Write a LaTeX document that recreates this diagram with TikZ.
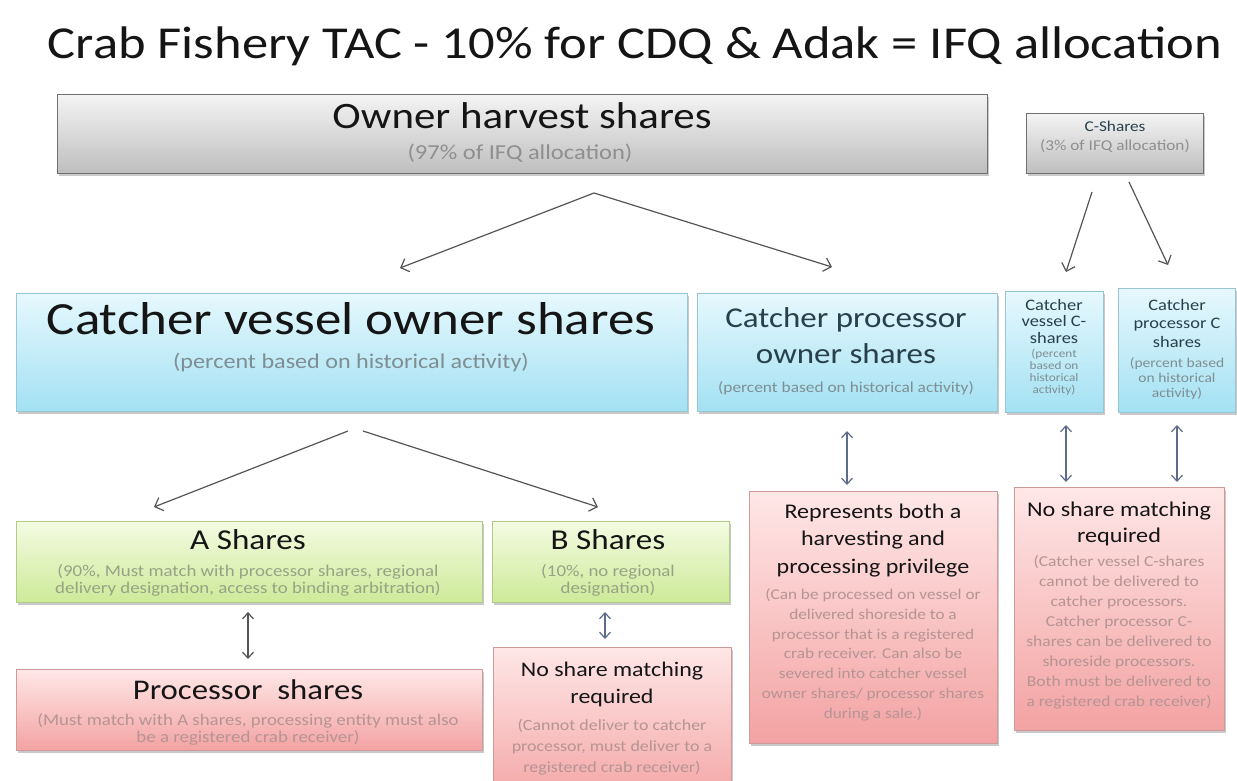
\documentclass[tikz,border=0pt]{standalone}
\usepackage{fontspec}
\setmainfont{Carlito}[FakeStretch=1.15]
\usetikzlibrary{arrows.meta,shadows}
\definecolor{grayT}{HTML}{F4F4F4}
\definecolor{grayB}{HTML}{BEBEBE}
\definecolor{grayL}{HTML}{707070}
\definecolor{blueT}{HTML}{E6F8FD}
\definecolor{blueB}{HTML}{A3E1F3}
\definecolor{blueL}{HTML}{98C6D3}
\definecolor{greenT}{HTML}{F4FBE2}
\definecolor{greenB}{HTML}{CDEA98}
\definecolor{greenL}{HTML}{B3CA8C}
\definecolor{pinkT}{HTML}{FFE7E7}
\definecolor{pinkB}{HTML}{F3A2A2}
\definecolor{pinkL}{HTML}{CF9A9A}
\definecolor{mainT}{HTML}{151515}
\definecolor{subGray}{HTML}{8F8F8F}
\definecolor{subBlue}{HTML}{7E8E93}
\definecolor{slateT}{HTML}{27404B}
\definecolor{subGreen}{HTML}{96A385}
\definecolor{subPink}{HTML}{B69494}
\definecolor{arrGray}{HTML}{555555}
\definecolor{arrSlate}{HTML}{5E6C8C}
\newcommand\fsz[2]{\fontsize{#1}{#2}\selectfont}
\begin{document}
\begin{tikzpicture}[x=1pt,y=-1pt,
  boxbase/.style={draw, line width=1.1pt, inner sep=0pt, anchor=north west,
    drop shadow={opacity=0.35, shadow xshift=1.5pt, shadow yshift=-2pt, fill=black!60}},
  graybox/.style={boxbase, draw=grayL, top color=grayT, bottom color=grayB},
  bluebox/.style={boxbase, draw=blueL, top color=blueT, bottom color=blueB},
  greenbox/.style={boxbase, draw=greenL, top color=greenT, bottom color=greenB},
  pinkbox/.style={boxbase, draw=pinkL, top color=pinkT, bottom color=pinkB},
  txt/.style={inner sep=0pt, anchor=base, align=center, text=mainT},
  arr/.style={draw=arrGray, line width=1.2pt, -{Straight Barb[length=7pt,width=14pt]}},
  darr/.style={draw=#1, line width=1.2pt, {Straight Barb[length=6pt,width=11pt]}-{Straight Barb[length=6pt,width=11pt]}},
]
\useasboundingbox (0,0) rectangle (1237,781);
\fill[white] (0,0) rectangle (1237,781);

% title
\node[txt, font={\fsz{45.7}{48}}] (title) at (635,59) {Crab Fishery TAC - 10\% for CDQ \& Adak = IFQ allocation};

% boxes
\node[graybox, minimum width=930pt, minimum height=79pt] (own) at (57,94) {};
\node[graybox, minimum width=177pt, minimum height=60pt] (csh) at (1026,113) {};
\node[bluebox, minimum width=671pt, minimum height=118pt] (cvo) at (16,293) {};
\node[bluebox, minimum width=300pt, minimum height=118pt] (cpo) at (697,293) {};
\node[bluebox, minimum width=98pt, minimum height=121pt] (cvc) at (1005,291) {};
\node[bluebox, minimum width=117pt, minimum height=124pt] (cpc) at (1118,288) {};
\node[greenbox, minimum width=466pt, minimum height=81pt] (ash) at (16,521) {};
\node[greenbox, minimum width=237pt, minimum height=81pt] (bsh) at (492,521) {};
\node[pinkbox, minimum width=466pt, minimum height=81pt] (psh) at (16,669) {};
\node[pinkbox, minimum width=238pt, minimum height=160pt] (nsb) at (493,647) {};
\node[pinkbox, minimum width=248pt, minimum height=252pt] (rep) at (749,491) {};
\node[pinkbox, minimum width=210pt, minimum height=243pt] (nsc) at (1014,487) {};

% texts (anchor base = baseline of the last line)
\node[txt, font={\fsz{37.3}{40}}] (ownT) at (522,129) {Owner harvest shares};
\node[txt, text=subGray, font={\fsz{21.3}{23}}] (ownS) at (520,160) {(97\% of IFQ allocation)};
\node[txt, text=slateT, font={\fsz{15}{17}}] (cshT) at (1115,132) {C-Shares};
\node[txt, text=subGray, font={\fsz{15}{17}}] (cshS) at (1115,150) {(3\% of IFQ allocation)};
\node[txt, font={\fsz{46.1}{48}}] (cvoT) at (351,334) {Catcher vessel owner shares};
\node[txt, text=subBlue, font={\fsz{21}{23}}] (cvoS) at (351,368) {(percent based on historical activity)};
\node[txt, text=slateT, font={\fsz{28.7}{36}}] (cpoT) at (846,363) {Catcher processor\\owner shares};
\node[txt, text=subBlue, font={\fsz{15.1}{17}}] (cpoS) at (846,392) {(percent based on historical activity)};
\node[txt, text=slateT, font={\fsz{16}{16.5}}] (cvcT) at (1054,343) {Catcher\\vessel C-\\shares};
\node[txt, text=subBlue, font={\fsz{11.5}{11.7}}] (cvcS) at (1054,393) {(percent\\based on\\historical\\activity)};
\node[txt, text=slateT, font={\fsz{16}{18.5}}] (cpcT) at (1177,347) {Catcher\\processor C\\shares};
\node[txt, text=subBlue, font={\fsz{13.5}{15}}] (cpcS) at (1177,397) {(percent based\\on historical\\activity)};
\node[txt, font={\fsz{28.8}{30}}] (ashT) at (248,549) {A Shares};
\node[txt, text=subGreen, font={\fsz{16.4}{17}}] (ashS) at (248,593) {(90\%, Must match with processor shares, regional\\delivery designation, access to binding arbitration)};
\node[txt, font={\fsz{28.8}{30}}] (bshT) at (608,549) {B Shares};
\node[txt, text=subGreen, font={\fsz{16.4}{17}}] (bshS) at (608,593) {(10\%, no regional\\designation)};
\node[txt, font={\fsz{28.5}{30}}] (pshT) at (248,699) {Processor\ \ shares};
\node[txt, text=subPink, font={\fsz{16.4}{17}}] (pshS) at (248,742) {(Must match with A shares, processing entity must also\\be a registered crab receiver)};
\node[txt, font={\fsz{20.8}{27}}] (nsbT) at (612,703) {No share matching\\required};
\node[txt, text=subPink, font={\fsz{15.6}{21}}] (nsbS) at (612,772) {(Cannot deliver to catcher\\processor, must deliver to a\\registered crab receiver)};
\node[txt, font={\fsz{20.9}{27.5}}] (repT) at (873,573) {Represents both a\\harvesting and\\processing privilege};
\node[txt, text=subPink, font={\fsz{15}{19.67}}] (repS) at (873,718) {(Can be processed on vessel or\\delivered shoreside to a\\processor that is a registered\\crab receiver. Can also be\\severed into catcher vessel\\owner shares/ processor shares\\during a sale.)};
\node[txt, font={\fsz{21}{26}}] (nscT) at (1119,542) {No share matching\\required};
\node[txt, text=subPink, font={\fsz{15.2}{19.86}}] (nscS) at (1119,706) {(Catcher vessel C-shares\\cannot be delivered to\\catcher processors.\\Catcher processor C-\\shares can be delivered to\\shoreside processors.\\Both must be delivered to\\a registered crab receiver)};

% connector coordinates
\coordinate (apex1) at (594,193);
\coordinate (tipCV) at (400,268);
\coordinate (tipCP) at (832,267);
\coordinate (cs1a) at (1092,192);
\coordinate (cs1b) at (1066,272);
\coordinate (cs2a) at (1129,182);
\coordinate (cs2b) at (1168,265);
\coordinate (cv1a) at (348,431);
\coordinate (cv1b) at (154,507);
\coordinate (cv2a) at (363,431);
\coordinate (cv2b) at (598,507);
\coordinate (d1a) at (847,431);
\coordinate (d1b) at (847,485);
\coordinate (d2a) at (1066,425);
\coordinate (d2b) at (1066,482);
\coordinate (d3a) at (1177,425);
\coordinate (d3b) at (1177,482);
\coordinate (d4a) at (248,612);
\coordinate (d4b) at (248,659);
\coordinate (d5a) at (605,612);
\coordinate (d5b) at (605,639);

\draw[arr] (apex1) -- (tipCV);
\draw[arr] (apex1) -- (tipCP);
\draw[arr] (cs1a) -- (cs1b);
\draw[arr] (cs2a) -- (cs2b);
\draw[arr] (cv1a) -- (cv1b);
\draw[arr] (cv2a) -- (cv2b);
\draw[darr=arrSlate] (d1a) -- (d1b);
\draw[darr=arrSlate] (d2a) -- (d2b);
\draw[darr=arrSlate] (d3a) -- (d3b);
\draw[darr=arrGray] (d4a) -- (d4b);
\draw[darr=arrSlate] (d5a) -- (d5b);
\end{tikzpicture}
\end{document}
